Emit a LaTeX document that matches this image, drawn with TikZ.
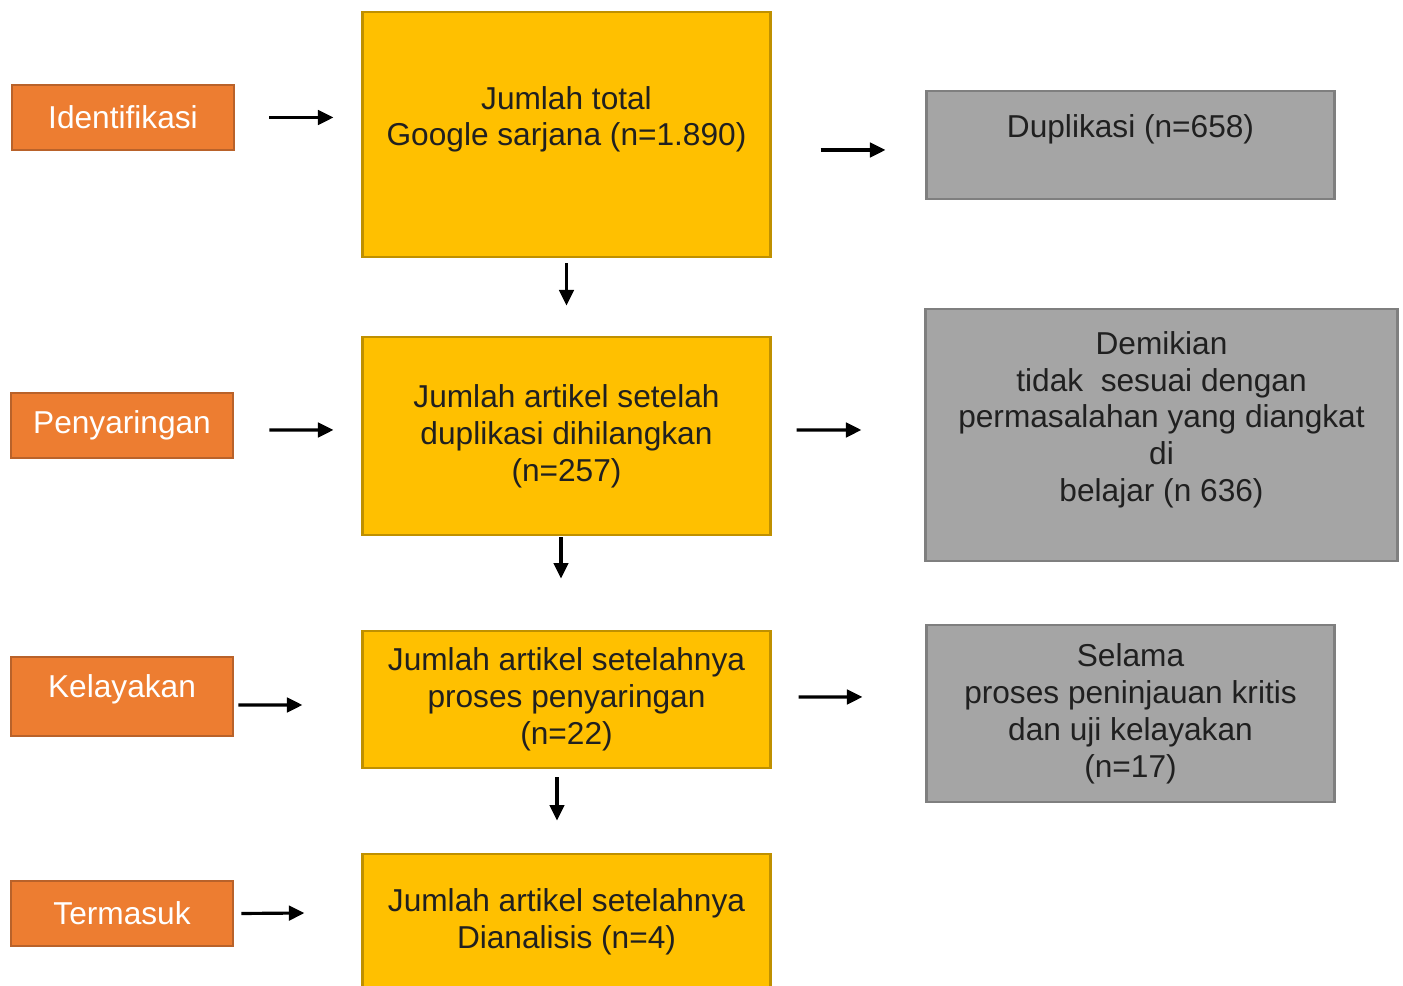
\documentclass[tikz,border=0pt]{standalone}
\usepackage{fontspec}
\setmainfont{Liberation Sans}
\usetikzlibrary{arrows.meta,positioning}
\definecolor{PhaseOrange}{HTML}{ED7D31}
\definecolor{PhaseEdge}{HTML}{B9622A}
\definecolor{CountGold}{HTML}{FFC000}
\definecolor{CountEdge}{HTML}{BF9000}
\definecolor{DropGrey}{HTML}{A5A5A5}
\definecolor{DropEdge}{HTML}{7F7F7F}
\definecolor{InkDark}{HTML}{202020}

\begin{document}
\begin{tikzpicture}[x=0.01cm, y=-0.01cm,
  phase/.style={draw=PhaseEdge, fill=PhaseOrange, line width=0.8pt, minimum width=2.22cm, minimum height=0.65cm, text=white, font=\fontsize{9}{10.5}\selectfont},
  count/.style={draw=CountEdge, fill=CountGold, line width=0.8pt, minimum width=4.07cm, align=center, text=InkDark, font=\fontsize{9}{10.5}\selectfont},
  drop/.style={draw=DropEdge, fill=DropGrey, line width=0.8pt, minimum width=4.07cm, align=center, text=InkDark, font=\fontsize{9}{10.5}\selectfont},
  arrow/.style={-{Triangle[length=1.55mm,width=1.45mm]}, line width=0.9pt, draw=black}
]
  \useasboundingbox (0,0) rectangle (1403,986);

  % left column
  \node[phase] (ident) at (123,117.5) {Identifikasi};
  \node[phase] (screen) at (122,425.5) {Penyaringan};
  \node[phase, minimum height=0.79cm, text depth=5.8pt] (elig) at (122,696.5) {Kelayakan};
  \node[phase] (incl) at (122,913.5) {Termasuk};

  % middle column
  \node[count, minimum height=2.45cm] (total) at (566.5,134.5) {Jumlah total\\Google sarjana (n=1.890)\\\mbox{}};
  \node[count, minimum height=1.98cm] (dedup) at (566.5,436) {Jumlah artikel setelah\\duplikasi dihilangkan\\(n=257)};
  \node[count, minimum height=1.37cm] (screened) at (566.5,699.5) {Jumlah artikel setelahnya\\proses penyaringan\\(n=22)};
  \node[count, minimum height=1.36cm] (analysed) at (566.5,922) {Jumlah artikel setelahnya\\Dianalisis (n=4)};

  % right column
  \node[drop, minimum height=1.08cm, text depth=10.6pt] (dup) at (1130.5,145) {Duplikasi (n=658)};
  \node[drop, minimum width=4.71cm, minimum height=2.52cm] (offtopic) at (1161.5,435) {Demikian\\tidak~ sesuai dengan\\permasalahan yang diangkat\\di\\belajar (n 636)\\\mbox{}};
  \node[drop, minimum height=1.77cm] (critical) at (1130.5,713.5) {Selama\\proses peninjauan kritis\\dan uji kelayakan\\(n=17)};

  \draw[arrow] ([xshift=0.34cm]ident.east) -- ([xshift=-0.28cm]total.west |- ident.east);
  \draw[arrow] ([xshift=0.35cm,yshift=-0.045cm]screen.east) -- ([xshift=-0.28cm,yshift=0.06cm]dedup.west);
  \draw[arrow] ([xshift=0.04cm,yshift=-0.085cm]elig.east) -- ([xshift=-0.59cm,yshift=-0.055cm]screened.west);
  \draw[arrow] ([xshift=0.07cm]incl.east) -- ([xshift=-0.57cm,yshift=0.09cm]analysed.west);

  \draw[arrow] ([xshift=0.49cm,yshift=-0.05cm]total.east |- dup.west) -- ([xshift=-0.40cm,yshift=-0.05cm]dup.west);
  \draw[arrow] ([xshift=0.25cm,yshift=0.06cm]dedup.east) -- ([xshift=-0.63cm,yshift=0.05cm]offtopic.west);
  \draw[arrow] ([xshift=0.27cm,yshift=0.025cm]screened.east) -- ([xshift=-0.63cm,yshift=0.165cm]critical.west);

  \draw[arrow] ([yshift=-0.05cm]total.south) -- ([yshift=0.30cm]dedup.north);
  \draw[arrow] ([xshift=-0.055cm,yshift=-0.01cm]dedup.south) -- ([xshift=-0.055cm,yshift=0.51cm]screened.north);
  \draw[arrow] ([xshift=-0.095cm,yshift=-0.08cm]screened.south) -- ([xshift=-0.095cm,yshift=0.32cm]analysed.north);
\end{tikzpicture}
\end{document}
